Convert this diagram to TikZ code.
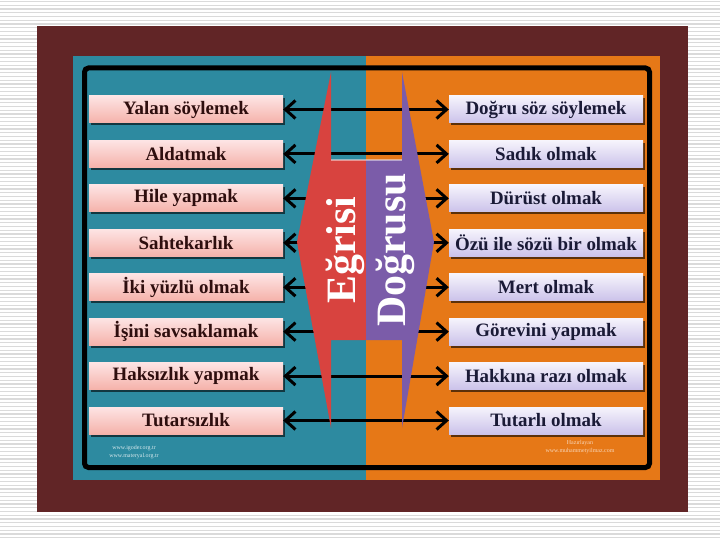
\documentclass[tikz,border=0pt]{standalone}
\usepackage{fontspec}
\setmainfont{Liberation Serif}
\usetikzlibrary{arrows.meta,shadows}
\definecolor{maroonbg}{HTML}{612526}
\definecolor{tealbg}{HTML}{2D8AA0}
\definecolor{orangebg}{HTML}{E67817}
\definecolor{redshape}{HTML}{D8433F}
\definecolor{purpleshape}{HTML}{7B5CA9}
\definecolor{ltop}{HTML}{FDE4E4}
\definecolor{lbot}{HTML}{F5B2AA}
\definecolor{rtop}{HTML}{F6F4FC}
\definecolor{rbot}{HTML}{CBC2EA}
\definecolor{ltxt}{HTML}{2E0E0E}
\definecolor{rtxt}{HTML}{1A1A36}
\definecolor{stripe}{HTML}{DADADA}
\begin{document}
\begin{tikzpicture}[x=1bp,y=-1bp,
  boxbase/.style={minimum width=194bp, minimum height=27bp, inner sep=0pt,
    drop shadow={shadow xshift=1.5bp, shadow yshift=-2.5bp, opacity=0.6, fill=black},
    font=\fontsize{19}{19}\selectfont\bfseries},
  lbox/.style={boxbase, top color=ltop, bottom color=lbot, text=ltxt},
  rbox/.style={boxbase, top color=rtop, bottom color=rbot, text=rtxt},
  dbl/.style={line width=3bp, black, {Straight Barb[length=10bp,width=18bp]}-{Straight Barb[length=10bp,width=18bp]}},
  bigword/.style={rotate=90, anchor=base, text=white, font=\fontsize{42}{42}\selectfont\bfseries, inner sep=0pt},
  tiny/.style={font=\fontsize{6}{8}\selectfont, inner sep=0pt, align=center}
]
\useasboundingbox (0,0) rectangle (720,540);
\fill[white] (0,0) rectangle (720,540);
\foreach \i in {0,...,143}
  \draw[stripe, line width=1.2bp] (0,{\i*3.75+1.5}) -- (720,{\i*3.75+1.5});
% backgrounds
\fill[maroonbg] (37,26) rectangle (688,512);
\fill[tealbg] (73,56) rectangle (366,480);
\fill[orangebg] (366,56) rectangle (660,480);
\draw[line width=5bp, rounded corners=4bp, black] (84.5,68) rectangle (649.5,467.5);
% boxes
\foreach \n/\lt/\rt in {1/Yalan söylemek/Doğru söz söylemek,
                        2/Aldatmak/Sadık olmak,
                        3/Hile yapmak/Dürüst olmak,
                        4/Sahtekarlık/Özü ile sözü bir olmak,
                        5/İki yüzlü olmak/Mert olmak,
                        6/İşini savsaklamak/Görevini yapmak,
                        7/Haksızlık yapmak/Hakkına razı olmak,
                        8/Tutarsızlık/Tutarlı olmak}{
  \node[lbox] (L\n) at (186,{109.5+44.43*(\n-1)}) {\lt};
  \node[rbox] (R\n) at (546,{109.5+44.43*(\n-1)}) {\rt};
  \draw[dbl] (L\n.east) -- (R\n.west);
}
% central shapes
\fill[redshape] (331,72) -- (297,242) -- (331,428) -- (331,340) -- (366,340) -- (366,160) -- (331,160) -- cycle;
\fill[purpleshape] (402,72) -- (434,242) -- (402,428) -- (402,340) -- (366,340) -- (366,160) -- (402,160) -- cycle;
\draw[white, opacity=0.45, line width=1.5bp] (331,160) -- (402,160);
\node[bigword] (egri) at (355,250) {Eğrisi};
\node[bigword] (dogru) at (405,250) {Doğrusu};
% small credits
\node[tiny, text=tealbg!20] (credL) at (134,452) {www.igoder.org.tr\\www.materyal.org.tr};
\node[tiny, text=orangebg!30] (credR) at (580,447) {Hazırlayan\\www.muhammetyilmaz.com};
\end{tikzpicture}
\end{document}
